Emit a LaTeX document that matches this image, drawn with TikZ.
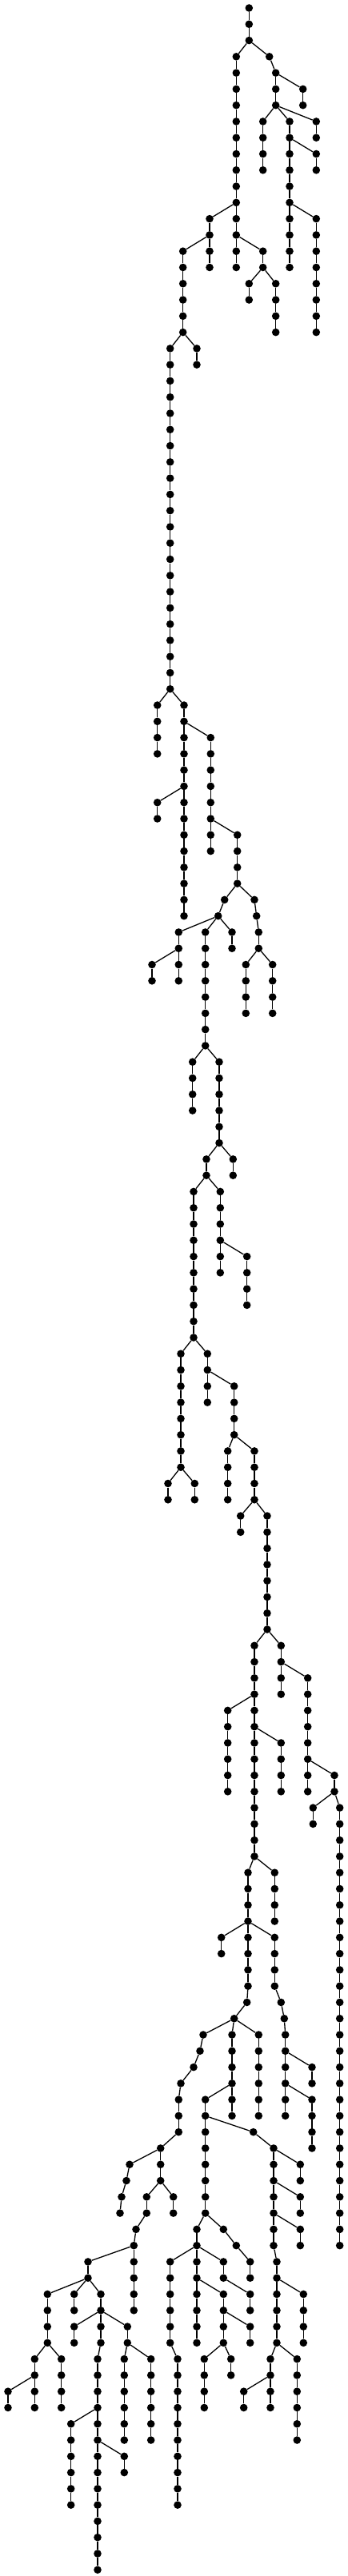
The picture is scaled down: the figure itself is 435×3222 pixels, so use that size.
\documentclass[tikz,border=0pt]{standalone}
\begin{document}
\begin{tikzpicture}[x=1pt,y=1pt,
  dot/.style={circle,fill=black,draw=none,inner sep=0pt,minimum size=9.6pt},
  edge/.style={line width=1.3pt,black}]
\useasboundingbox (0,0) rectangle (435,-3222);
\newcommand\chainseg[5]{%
  \foreach \k in {#3,...,#4}{%
    \node[dot] (#1\k) at (#2, {-(10+20.28*\k)}) {};
  }%
  \foreach \k in {#3,...,#4}{%
    \ifnum\k>#3\relax
      \pgfmathtruncatemacro\kp{\k-1}%
      \draw[edge] (#1\kp) -- (#1\k);
    \fi
  }%
  \if\relax\detokenize{#5}\relax\else\draw[edge] (#5) -- (#1#3);\fi
}
\chainseg{A}{311.3}{0}{2}{}
\chainseg{B}{295.3}{3}{16}{A2}
\chainseg{C}{336.7}{3}{3}{A2}
\chainseg{D}{344.7}{4}{6}{C3}
\chainseg{E}{378.7}{5}{6}{D4}
\chainseg{F}{328.7}{7}{10}{D6}
\chainseg{G}{362}{7}{16}{D6}
\chainseg{H}{395.3}{7}{8}{D6}
\chainseg{I}{395.3}{9}{10}{G8}
\chainseg{J}{395.3}{13}{20}{G12}
\chainseg{K}{262}{13}{16}{B12}
\chainseg{L}{228.7}{15}{20}{K14}
\chainseg{M}{328.7}{15}{16}{B14}
\chainseg{N}{311.3}{17}{18}{M16}
\chainseg{O}{344.7}{17}{20}{M16}
\chainseg{P}{212.7}{21}{42}{L20}
\chainseg{Q}{246}{21}{22}{L20}
\chainseg{R}{196.7}{43}{46}{P42}
\chainseg{S}{230}{43}{56}{P42}
\chainseg{T}{263.3}{45}{52}{S44}
\chainseg{U}{196.7}{49}{50}{S48}
\chainseg{V}{296.7}{51}{54}{T50}
\chainseg{W}{280.7}{55}{55}{V54}
\chainseg{X}{272.7}{56}{56}{W55}
\chainseg{Y}{318}{55}{55}{V54}
\chainseg{Z}{320.7}{56}{56}{Y55}
\chainseg{AA}{323.3}{57}{58}{Z56}
\chainseg{AB}{223.3}{57}{60}{X56}
\chainseg{AC}{256.7}{57}{64}{X56}
\chainseg{AD}{290}{57}{58}{X56}
\chainseg{AE}{190}{59}{60}{AB58}
\chainseg{AF}{307.3}{59}{62}{AA58}
\chainseg{AG}{340.7}{59}{62}{AA58}
\chainseg{AH}{240.7}{65}{68}{AC64}
\chainseg{AI}{274}{65}{70}{AC64}
\chainseg{AJ}{258}{71}{72}{AI70}
\chainseg{AK}{291.3}{71}{72}{AI70}
\chainseg{AL}{242}{73}{82}{AJ72}
\chainseg{AM}{275.3}{73}{78}{AJ72}
\chainseg{AN}{308.7}{77}{80}{AM76}
\chainseg{AO}{226}{83}{90}{AL82}
\chainseg{AP}{259.3}{83}{86}{AL82}
\chainseg{AQ}{292.7}{85}{88}{AP84}
\chainseg{AR}{284.7}{89}{92}{AQ88}
\chainseg{AS}{318}{89}{92}{AQ88}
\chainseg{AT}{210}{91}{92}{AO90}
\chainseg{AU}{243.3}{91}{92}{AO90}
\chainseg{AV}{300.7}{93}{94}{AS92}
\chainseg{AW}{334}{93}{100}{AS92}
\chainseg{AX}{318}{101}{114}{AW100}
\chainseg{AY}{351.3}{101}{104}{AW100}
\chainseg{AZ}{384.7}{103}{110}{AY102}
\chainseg{BA}{284.7}{105}{110}{AX104}
\chainseg{BB}{351.3}{107}{110}{AX106}
\chainseg{BC}{418}{109}{110}{AZ108}
\chainseg{BD}{391.3}{111}{112}{BC110}
\chainseg{BE}{424.7}{111}{138}{BC110}
\chainseg{BF}{310}{115}{122}{AX114}
\chainseg{BG}{343.3}{115}{118}{AX114}
\chainseg{BH}{276.7}{119}{120}{BF118}
\chainseg{BI}{343.3}{119}{122}{BF118}
\chainseg{BJ}{308.7}{123}{123}{BF122}
\chainseg{BK}{292.7}{124}{124}{BJ123}
\chainseg{BL}{254}{125}{125}{BK124}
\chainseg{BM}{290}{125}{130}{BK124}
\chainseg{BN}{323.3}{125}{130}{BK124}
\chainseg{BO}{250}{126}{126}{BL125}
\chainseg{BP}{242}{127}{127}{BO126}
\chainseg{BQ}{226}{128}{128}{BP127}
\chainseg{BR}{223.3}{129}{131}{BQ128}
\chainseg{BS}{200.7}{132}{134}{BR131}
\chainseg{BT}{162}{133}{133}{BS132}
\chainseg{BU}{158}{134}{134}{BT133}
\chainseg{BV}{152}{135}{135}{BU134}
\chainseg{BW}{150}{136}{136}{BV135}
\chainseg{BX}{183.3}{135}{136}{BS134}
\chainseg{BY}{216.7}{135}{136}{BS134}
\chainseg{BZ}{351.3}{123}{123}{BI122}
\chainseg{CA}{355.3}{124}{124}{BZ123}
\chainseg{CB}{356.7}{125}{130}{CA124}
\chainseg{CC}{390}{127}{128}{CB126}
\chainseg{CD}{390}{129}{132}{CB128}
\chainseg{CE}{256.7}{129}{136}{BM128}
\chainseg{CF}{316.7}{131}{131}{CE130}
\chainseg{CG}{342}{132}{138}{CF131}
\chainseg{CH}{375.3}{133}{134}{CG132}
\chainseg{CI}{375.3}{135}{136}{CG134}
\chainseg{CJ}{375.3}{137}{138}{CG136}
\chainseg{CK}{346}{139}{144}{CG138}
\chainseg{CL}{379.3}{141}{144}{CK140}
\chainseg{CM}{338}{145}{148}{CK144}
\chainseg{CN}{371.3}{145}{150}{CK144}
\chainseg{CO}{304.7}{147}{148}{CM146}
\chainseg{CP}{170}{137}{137}{BX136}
\chainseg{CQ}{167.3}{138}{142}{CP137}
\chainseg{CR}{110}{139}{140}{CQ138}
\chainseg{CS}{59.3}{141}{144}{CR140}
\chainseg{CT}{92.7}{141}{142}{CR140}
\chainseg{CU}{126}{141}{144}{CR140}
\chainseg{CV}{92.7}{143}{144}{CU142}
\chainseg{CW}{159.3}{143}{144}{CU142}
\chainseg{CX}{43.3}{145}{148}{CS144}
\chainseg{CY}{76.7}{145}{148}{CS144}
\chainseg{CZ}{10}{147}{148}{CX146}
\chainseg{DA}{122}{145}{158}{CU144}
\chainseg{DB}{155.3}{145}{150}{CW144}
\chainseg{DC}{188.7}{145}{150}{CW144}
\chainseg{DD}{88.7}{149}{154}{DA148}
\chainseg{DE}{155.3}{151}{152}{DA150}
\chainseg{DF}{246}{137}{144}{CE136}
\chainseg{DG}{279.3}{137}{137}{CE136}
\chainseg{DH}{295.3}{138}{138}{DG137}
\chainseg{DI}{312.7}{139}{140}{DH138}
\chainseg{DJ}{212.7}{139}{144}{DF138}
\chainseg{DK}{222}{145}{154}{DJ144}
\chainseg{DL}{279.3}{139}{140}{DF138}
\chainseg{DM}{279.3}{141}{144}{DF140}
\chainseg{DN}{312.7}{141}{142}{DL140}
\chainseg{DO}{312.7}{143}{144}{DM142}
\chainseg{DP}{255.3}{145}{148}{DM144}
\chainseg{DQ}{288.7}{145}{146}{DM144}
\end{tikzpicture}
\end{document}
